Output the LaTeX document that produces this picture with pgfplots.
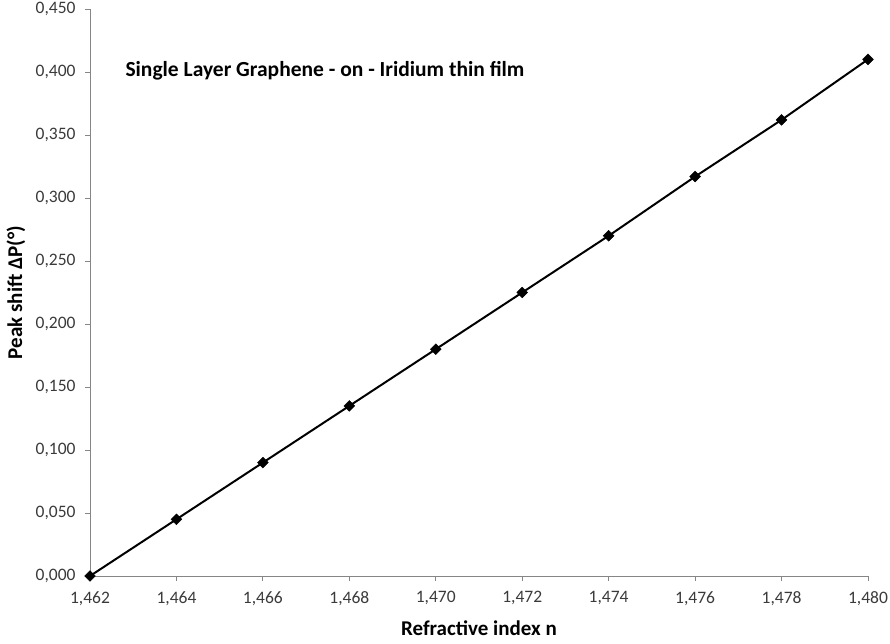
\documentclass[border=0pt]{standalone}
\usepackage{fontspec}
\setmainfont{Carlito}
\usepackage{pgfplots}
\pgfplotsset{compat=1.18}
\definecolor{axisgray}{HTML}{868686}
\definecolor{labelgray}{HTML}{3A3A3A}
\begin{document}
\begin{tikzpicture}
\useasboundingbox (-90bp,-68bp) rectangle (800bp,576bp);
\begin{axis}[
  scale only axis,
  width=778bp, height=567bp,
  xmin=1.462, xmax=1.480,
  ymin=0, ymax=0.45,
  xtick={1.462,1.464,...,1.480},
  ytick={0,0.05,...,0.45},
  axis x line*=bottom,
  axis y line*=left,
  axis line style={axisgray, line width=0.8pt, -},
  tick style={axisgray, line width=0.8pt},
  tick align=outside,
  major tick length=5bp,
  /pgf/number format/assume math mode=true,
  xticklabel style={/pgf/number format/.cd, fixed, fixed zerofill, precision=3, use comma, /tikz/.cd, yshift=-7bp},
  yticklabel style={/pgf/number format/.cd, fixed, fixed zerofill, precision=3, use comma, /tikz/.cd, xshift=-6bp},
  ticklabel style={font=\fontsize{17.5bp}{20bp}\selectfont, text=labelgray},
  scaled x ticks=false,
  scaled y ticks=false,
  xlabel={\textbf{Refractive index n}},
  ylabel={\textbf{Peak shift ΔP(°)}},
  label style={font=\fontsize{21bp}{24bp}\selectfont},
  xlabel style={at={(axis description cs:0.5,0)}, anchor=center, yshift=-52bp},
  ylabel style={at={(axis description cs:0,0.5)}, anchor=center, xshift=0bp, yshift=74bp},
  clip=false,
]
\addplot[black, line width=2pt, mark=square*, mark size=3.8bp,
         mark options={fill=black, line width=0.5pt, rotate=45}]
  coordinates {
    (1.462,0.000) (1.464,0.045) (1.466,0.090) (1.468,0.135) (1.470,0.180)
    (1.472,0.225) (1.474,0.270) (1.476,0.317) (1.478,0.362) (1.480,0.410)
  };
\node[anchor=west, font=\fontsize{21.5bp}{24bp}\selectfont\bfseries]
  at (axis cs:1.46274,0.4008) {Single Layer Graphene - on - Iridium thin film};
\end{axis}
\end{tikzpicture}
\end{document}
